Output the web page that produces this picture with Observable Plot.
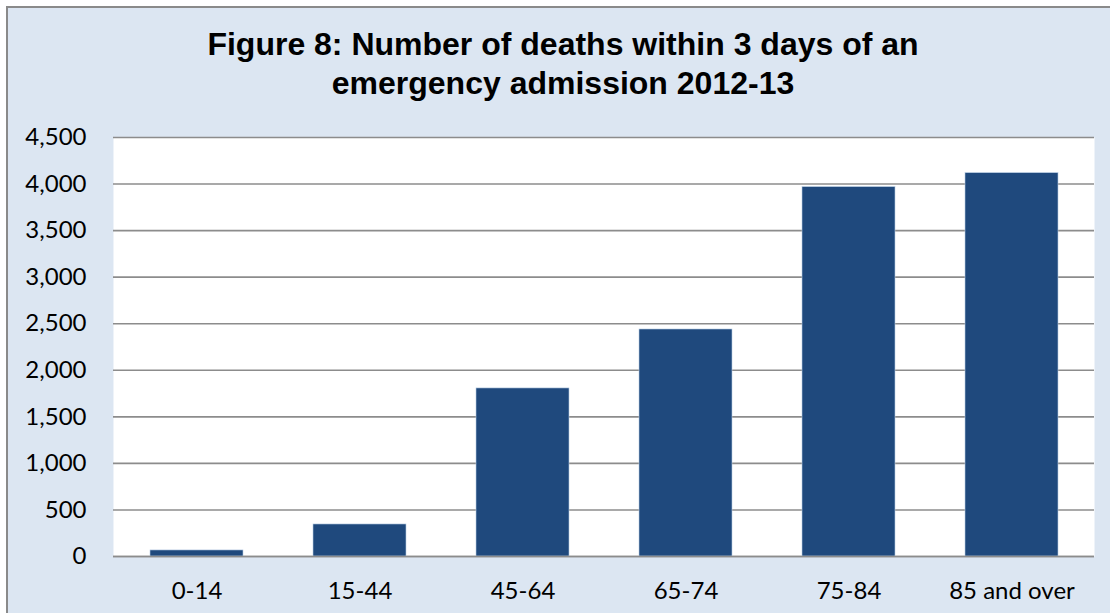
<!DOCTYPE html>
<html>
<head>
<meta charset="utf-8">
<script src="https://cdn.jsdelivr.net/npm/d3@7"></script>
<script src="https://cdn.jsdelivr.net/npm/@observablehq/plot@0.6"></script>
<style>
  html, body { margin: 0; padding: 0; background: #ffffff; }
  #frame {
    position: absolute; left: 6px; top: 6px; width: 1104px; height: 607px;
    background: #dce6f2; border-top: 2px solid #8a8a8a; border-left: 2px solid #8a8a8a;
    box-sizing: border-box;
  }
  #title {
    position: absolute; left: 0; top: 25px; width: 1126px; text-align: center;
    font-family: "Liberation Sans", Arial, sans-serif; font-weight: bold; font-size: 32px;
    line-height: 39px; color: #000;
  }
  #chart { position: absolute; left: 0; top: 120px; }
</style>
</head>
<body>
<div id="frame"></div>
<div id="title">Figure 8: Number of deaths within 3 days of an<br>emergency admission 2012-13</div>
<div id="chart"></div>
<script>
const categories = ["0-14", "15-44", "45-64", "65-74", "75-84", "85 and over"];
const deaths = [65, 344, 1805, 2438, 3967, 4117];
const yTicks = [0, 500, 1000, 1500, 2000, 2500, 3000, 3500, 4000, 4500];

const data = categories.map((c, i) => ({category: c, value: deaths[i]}));

const plot = Plot.plot({
  width: 1110,
  height: 493,
  marginLeft: 113,
  marginRight: 16,
  marginTop: 17,
  marginBottom: 57,
  style: {background: "transparent", fontFamily: "Lato, 'Open Sans', sans-serif", fontSize: "24px", color: "#000"},
  x: {domain: categories, paddingInner: 0.431, paddingOuter: 0.2155, label: null},
  y: {domain: [0, 4500], ticks: yTicks, label: null},
  marks: [
    Plot.frame({fill: "white", stroke: null}),
    Plot.gridY(yTicks, {stroke: "#8c8c8c", strokeOpacity: 1, strokeWidth: 1.6}),
    Plot.barY(data, {x: "category", y: "value", fill: "#1f497d", stroke: "#b9cde5", strokeWidth: 0.6}),
    Plot.ruleY([0], {stroke: "#8c8c8c", strokeWidth: 1.6}),
    Plot.axisY(yTicks, {tickSize: 0, tickPadding: 27, tickFormat: d3.format(","), fontSize: 24, fill: "#000", label: null}),
    Plot.axisX({tickSize: 0, tickPadding: 25, fontSize: 24, fill: "#000", label: null})
  ]
});
document.getElementById("chart").appendChild(plot);
</script>
</body>
</html>
